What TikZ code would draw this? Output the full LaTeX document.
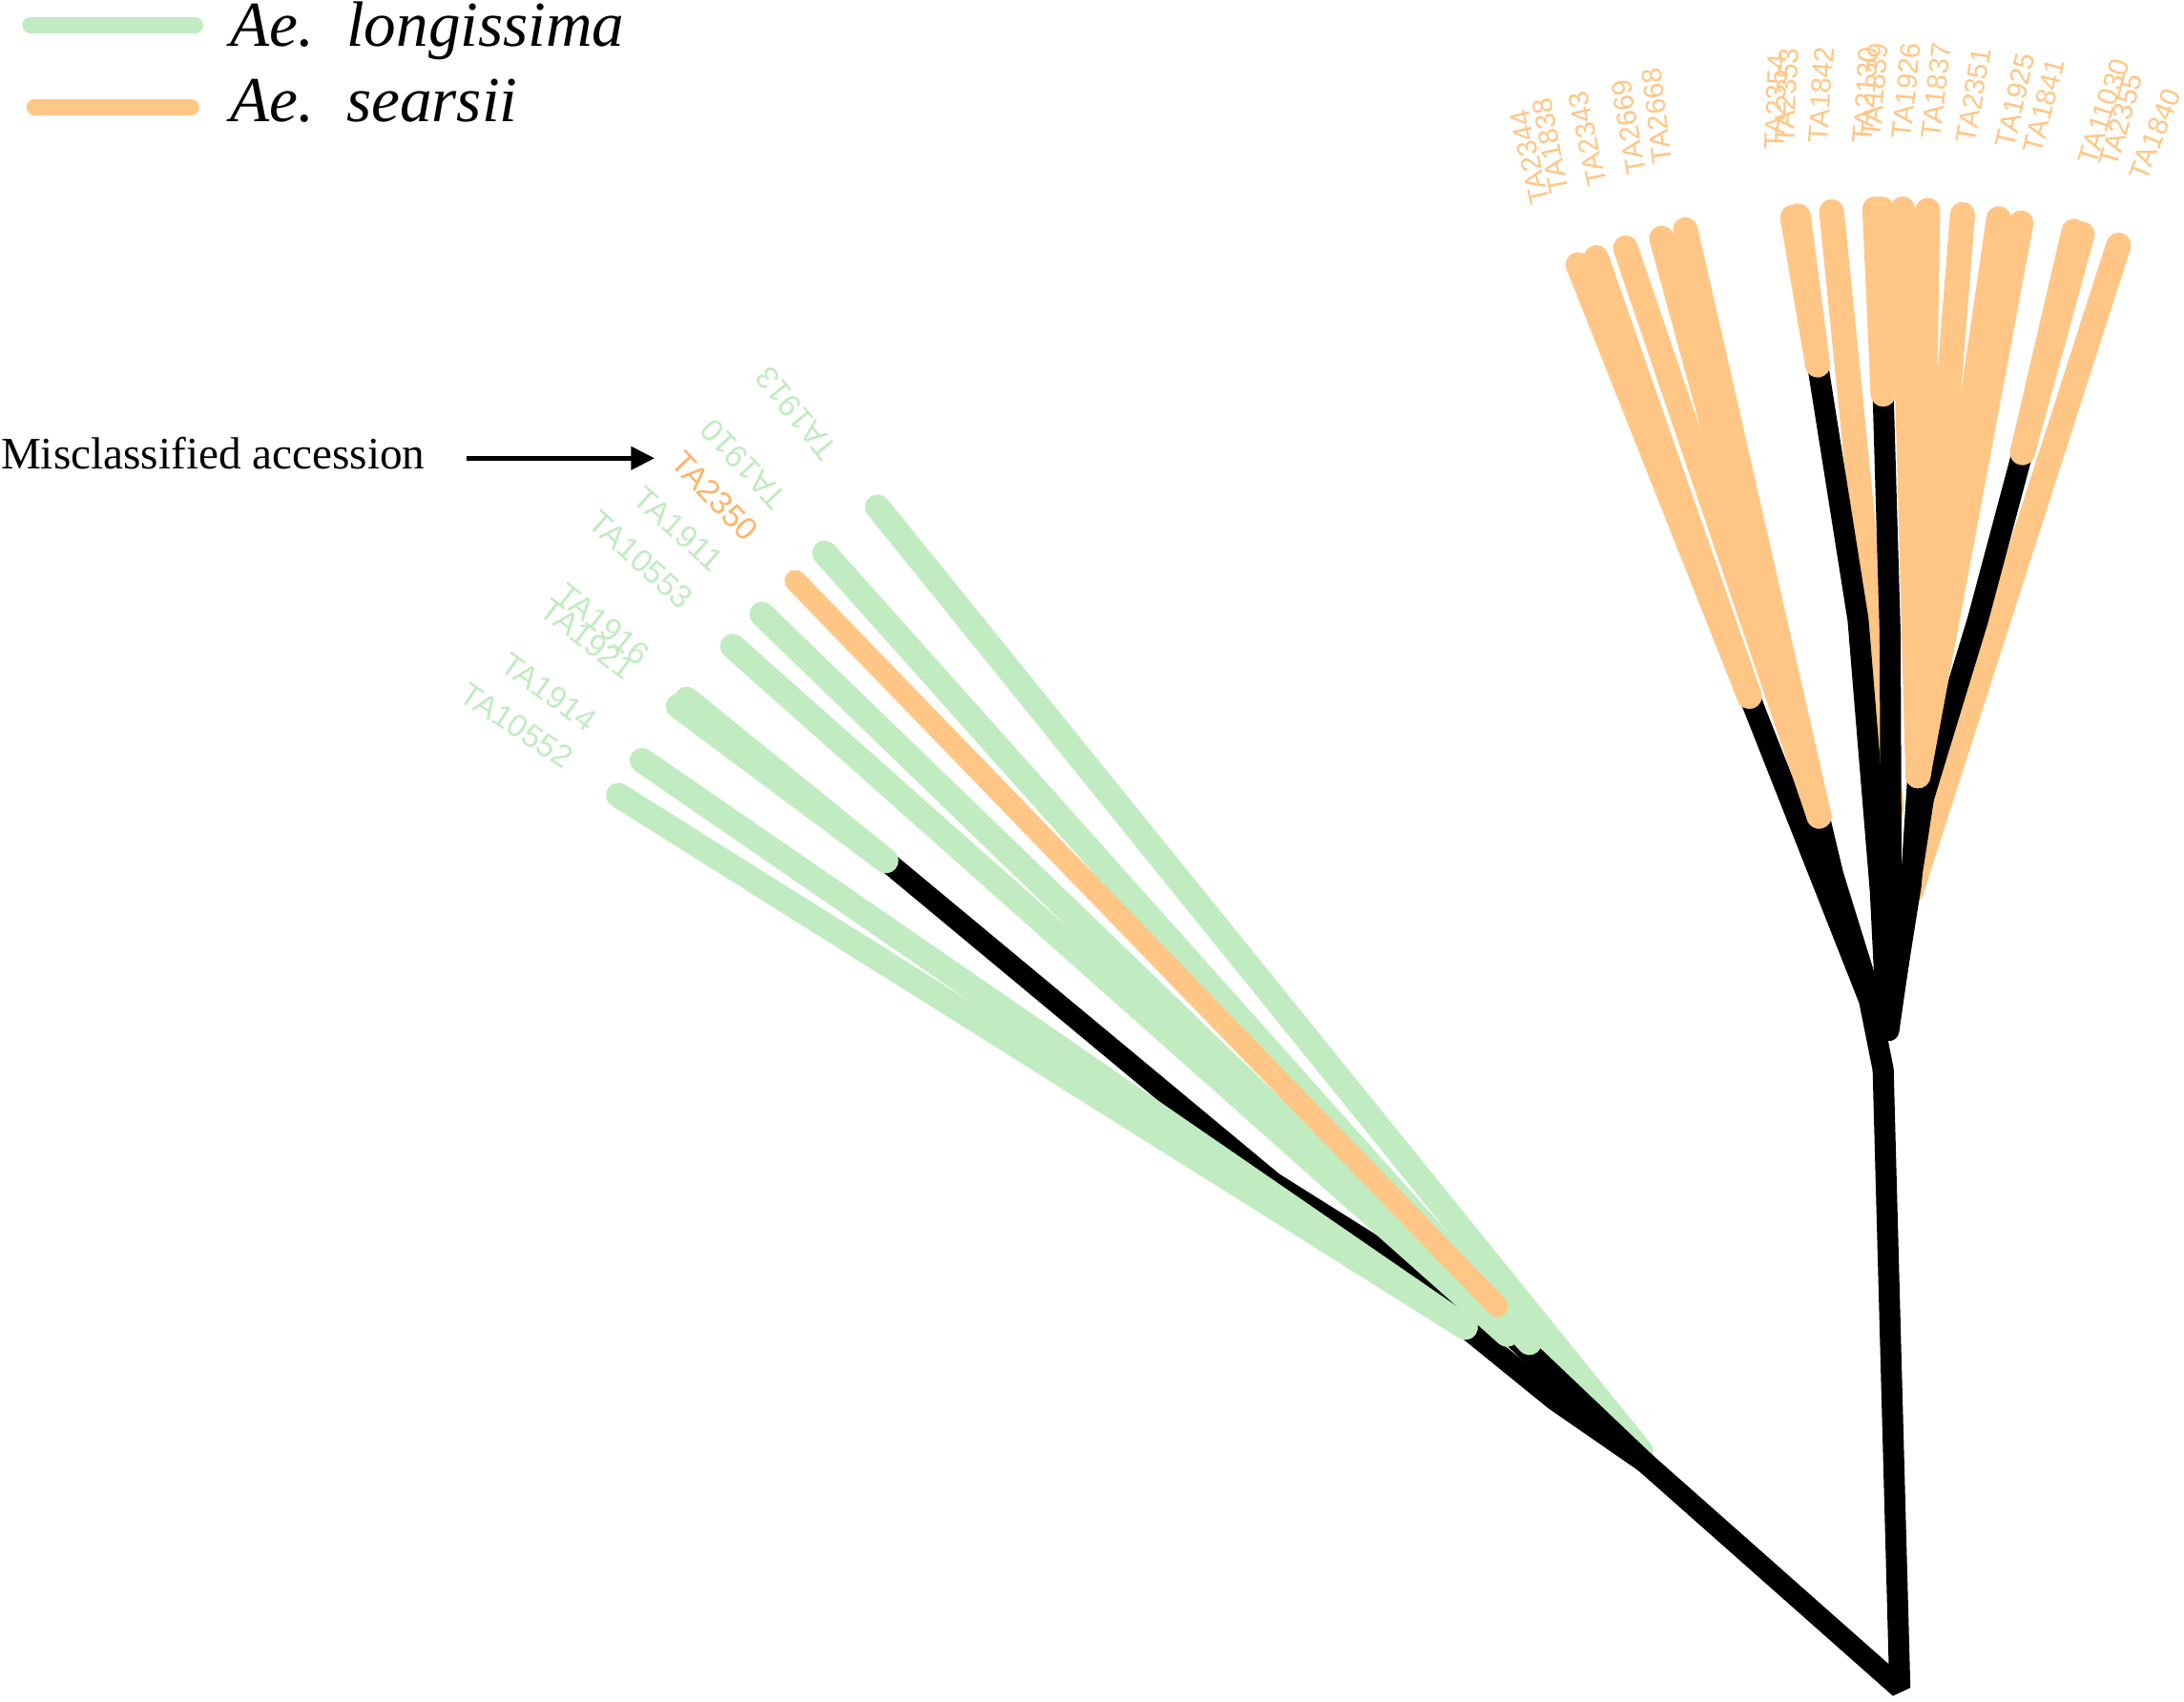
\documentclass[tikz,border=0pt]{standalone}
\usepackage{fontspec}
\setmainfont{Liberation Serif}
\newfontfamily\labfont{Liberation Sans}
\usetikzlibrary{arrows.meta}
\definecolor{lgreen}{RGB}{193,235,192}
\definecolor{lorange}{RGB}{255,198,133}
\definecolor{dorange}{RGB}{253,180,105}
\begin{document}
\begin{tikzpicture}[x=0.1mm,y=-0.1mm,
  blk/.style={line width=4.3pt, black, line cap=round, line join=round},
  grn/.style={line width=5.1pt, lgreen, line cap=round},
  org/.style={line width=5.1pt, lorange, line cap=round},
  rlab/.style={text=lorange, font=\labfont\fontsize{5.7pt}{6pt}\selectfont, anchor=west, inner sep=0pt},
  llab/.style={text=lgreen, font=\labfont\fontsize{6.5pt}{7pt}\selectfont, inner sep=0pt},
  legtext/.style={font=\itshape\fontsize{13.1pt}{15pt}\selectfont, anchor=base west, inner sep=0pt},
]
\useasboundingbox (0,0) rectangle (1568,1222);

% ---------- coordinates: left clade ----------
\coordinate (R) at (1364,1212);
\coordinate (A) at (1352,768);
\coordinate (L0) at (1181,1050);
\coordinate (Lu2) at (1078,952);
\coordinate (Lu1) at (914,849);
\coordinate (Lb) at (636,618);
\coordinate (Ll1) at (1116,1005);
\coordinate (Lg) at (1052,953);
\coordinate (Lm) at (1082,958);
\coordinate (Lm2) at (1098,964);
\coordinate (Lo) at (1075,938);
\coordinate (L13) at (1178,1042);
\coordinate (t1913) at (630,364);
\coordinate (t1910) at (592,397);
\coordinate (t2350) at (571,417);
\coordinate (t1911) at (547,441);
\coordinate (t10553) at (526,464);
\coordinate (t1916) at (493,502);
\coordinate (t1921) at (487,507);
\coordinate (t1914) at (461,546);
\coordinate (t10552) at (444,571);

% ---------- coordinates: right clade ----------
\coordinate (LG1) at (1256,500);
\coordinate (LG2) at (1306,586);
\coordinate (M1) at (1305,262);
\coordinate (M2) at (1352,283);
\coordinate (M3) at (1377,557);
\coordinate (M4) at (1452,325);
\coordinate (e1842) at (1358,580);
\coordinate (e1840) at (1372,640);
\coordinate (t2344) at (1133,190);
\coordinate (t1838) at (1146,185);
\coordinate (t2343) at (1167,178);
\coordinate (t2669) at (1193,171);
\coordinate (t2668) at (1210,165);
\coordinate (t2354) at (1287,156);
\coordinate (t2353) at (1291,155);
\coordinate (t1842) at (1315,152);
\coordinate (t2130) at (1346,150);
\coordinate (t1839) at (1351,150);
\coordinate (t1926) at (1366,150);
\coordinate (t1837) at (1384,151);
\coordinate (t2351) at (1409,154);
\coordinate (t1925) at (1435,157);
\coordinate (t1841) at (1451,160);
\coordinate (t11030) at (1489,166);
\coordinate (t2355) at (1495,168);
\coordinate (t1840) at (1521,176);

% ---------- colored branches lying under black ----------
\draw[grn] (t1913) -- (L13);
\draw[org] (t1842) -- (e1842);
\draw[org] (t1840) -- (e1840);

% ---------- black internal branches ----------
\draw[blk] (Lb) -- (Lu1) -- (Lu2) -- (L0);
\draw[blk] (Lg) -- (Ll1) -- (L0);
\draw[line width=4.3pt, black, line cap=butt, line join=bevel] (L0) -- (R) -- (A);
\draw[blk] (LG1) -- (1342,718) -- (A);
\draw[blk] (LG2) -- (1316,628) -- (1342,712);
\draw[blk] (M1) -- (1334,445) -- (1350,640) -- (1354,720);
\draw[blk] (M2) -- (1357,455) -- (1358,700);
\draw[blk] (M3) -- (1372,635) -- (1360,710);
\draw[blk] (M4) -- (1420,445) -- (1381,573) -- (1366,670) -- (1356,740);

% ---------- colored tip branches: left clade ----------
\draw[grn] (t1911) -- (Lm);
\draw[grn] (t10553) -- (Lm);
\draw[grn] (t1910) -- (Lm2);
\draw[org, line width=4.4pt] (t2350) -- (Lo);
\draw[grn] (t1916) -- (Lb);
\draw[grn] (t1921) -- (Lb);
\draw[grn] (t1914) -- (Lg);
\draw[grn] (t10552) -- (Lg);

% ---------- colored tip branches: right clade ----------
\draw[org] (t2344) -- (LG1);
\draw[org] (t1838) -- (LG1);
\draw[org] (t2343) -- (LG2);
\draw[org] (t2669) -- (LG2);
\draw[org] (t2668) -- (LG2);
\draw[org] (t2354) -- (M1);
\draw[org] (t2353) -- (M1);
\draw[org] (t2130) -- (M2);
\draw[org] (t1839) -- (M2);
\draw[org] (t1926) -- (M3);
\draw[org] (t1837) -- (M3);
\draw[org] (t2351) -- (M3);
\draw[org] (t1925) -- (M3);
\draw[org] (t1841) -- (M3);
\draw[org] (t11030) -- (M4);
\draw[org] (t2355) -- (M4);

% ---------- tip labels: right clade ----------
\node[rlab, rotate=103] (n2344) at (1106,147) {TA2344};
\node[rlab, rotate=101] (n1838) at (1120,139) {TA1838};
\node[rlab, rotate=102] (n2343) at (1147,134) {TA2343};
\node[rlab, rotate=99.5] (n2669) at (1175,126) {TA2669};
\node[rlab, rotate=97] (n2668) at (1194,118) {TA2668};
\node[rlab, rotate=88] (n2354) at (1274,108) {TA2354};
\node[rlab, rotate=87] (n2353) at (1281,104) {TA2353};
\node[rlab, rotate=86] (n1842) at (1305,103) {TA1842};
\node[rlab, rotate=86] (n2130) at (1337,103) {TA2130};
\node[rlab, rotate=85] (n1839) at (1343,100) {TA1839};
\node[rlab, rotate=84] (n1926) at (1365,100) {TA1926};
\node[rlab, rotate=83] (n1837) at (1386,100) {TA1837};
\node[rlab, rotate=80] (n2351) at (1411,103) {TA2351};
\node[rlab, rotate=77] (n1925) at (1439,106) {TA1925};
\node[rlab, rotate=76] (n1841) at (1459,110) {TA1841};
\node[rlab, rotate=72] (n11030) at (1498,118) {TA11030};
\node[rlab, rotate=74] (n2355) at (1513,120) {TA2355};
\node[rlab, rotate=68] (n1840) at (1534,129) {TA1840};

% ---------- tip labels: left clade ----------
\node[llab, rotate=128.9] (n1913) at (572,297) {TA1913};
\node[llab, rotate=133] (n1910) at (534,333) {TA1910};
\node[llab, rotate=-46.5, text=dorange] (n2350) at (513,356) {TA2350};
\node[llab, rotate=-41.9] (n1911) at (487,380) {TA1911};
\node[llab, rotate=-42] (n10553) at (460,402) {TA10553};
\node[llab, rotate=-38.9] (n1916) at (433,448) {TA1916};
\node[llab, rotate=-38] (n1921) at (422,459) {TA1921};
\node[llab, rotate=-36] (n1914) at (394,497) {TA1914};
\node[llab, rotate=-33.5] (n10552) at (371,521) {TA10552};

% ---------- legend ----------
\coordinate (lg1a) at (22,18);
\coordinate (lg1b) at (140,18);
\coordinate (lg2a) at (25,77);
\coordinate (lg2b) at (137,77);
\draw[line width=3.4pt, lgreen, line cap=round] (lg1a) -- (lg1b);
\draw[line width=3.4pt, lorange, line cap=round] (lg2a) -- (lg2b);
\node[legtext] (leg1) at (165,33) {Ae.\ \ longissima};
\node[legtext] (leg2) at (165,87) {Ae.\ \ searsii};

% ---------- annotation ----------
\node[font=\fontsize{9.2pt}{11pt}\selectfont, anchor=base west, inner sep=0pt] (mis) at (0,337) {Misclassified accession};
\coordinate (arrS) at (335,329);
\coordinate (arrE) at (470,329);
\draw[line width=1pt, -{Triangle[length=4.8pt,width=4.6pt]}] (arrS) -- (arrE);
\end{tikzpicture}
\end{document}
